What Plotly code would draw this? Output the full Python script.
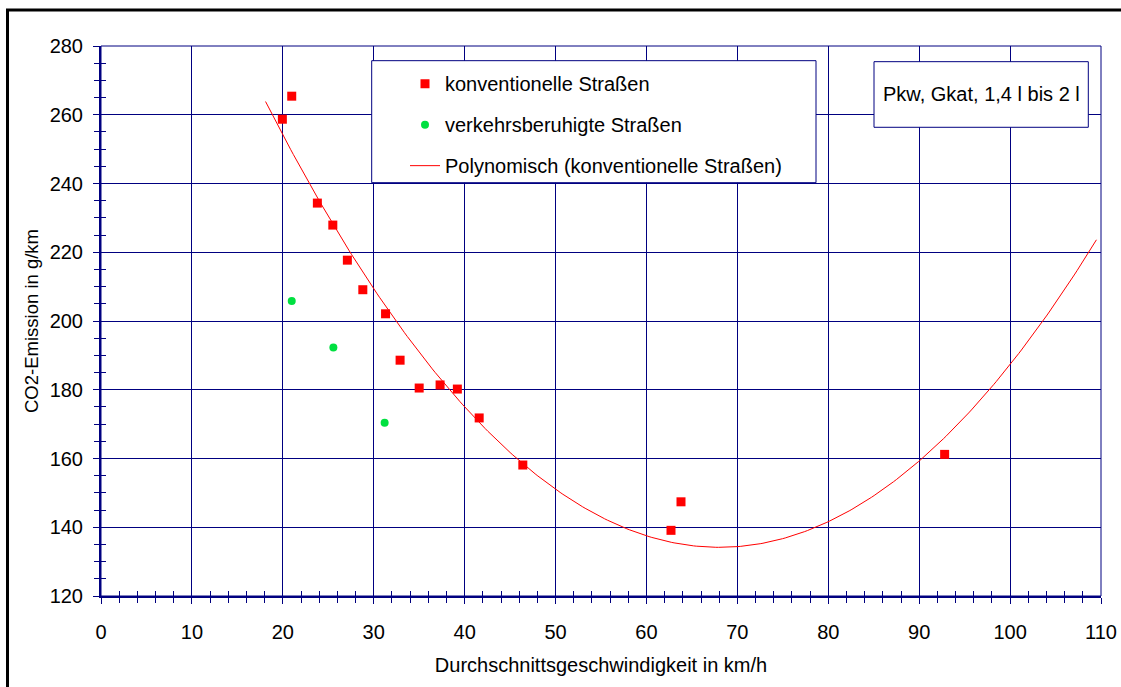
import numpy as np
import plotly.graph_objects as go

# Data
konv_speed = [19.95, 20.98, 23.8, 25.5, 27.1, 28.8, 31.3, 32.9, 35.0, 37.3, 39.2, 41.6, 46.4, 62.7, 63.8, 92.8]
konv_co2 = [258.7, 265.4, 234.3, 227.9, 217.7, 209.1, 202.1, 188.6, 180.5, 181.4, 180.2, 171.8, 158.1, 139.1, 147.4, 161.2]
beruhigt_speed = [20.98, 25.56, 31.2]
beruhigt_co2 = [205.8, 192.3, 170.4]
x_ticks = [0, 10, 20, 30, 40, 50, 60, 70, 80, 90, 100, 110]
y_ticks = [120, 140, 160, 180, 200, 220, 240, 260, 280]
trend_range = [18.1, 109.5]

# polynomial (2nd order) trendline of the conventional roads, like the spreadsheet trendline
coef = np.polyfit(konv_speed, konv_co2, 2)
tx = np.linspace(trend_range[0], trend_range[1], 300)
ty = np.polyval(coef, tx)

NAVY = "#000080"
FONT = "Liberation Sans, Arial, sans-serif"
FS = 20

fig = go.Figure()
fig.add_trace(go.Scatter(x=konv_speed, y=konv_co2, mode="markers", name="konventionelle Straßen",
                         marker=dict(symbol="square", size=9, color="#FF0000"), legendgroup="a"))
fig.add_trace(go.Scatter(x=beruhigt_speed, y=beruhigt_co2, mode="markers", name="verkehrsberuhigte Straßen",
                         marker=dict(symbol="circle", size=8, color="#00E040"), legendgroup="b"))
fig.add_trace(go.Scatter(x=tx, y=ty, mode="lines", name="Polynomisch (konventionelle Straßen)",
                         line=dict(color="#FF0000", width=1), legendgroup="c"))
# helper trace for the overlay axes (crossing minor ticks)
fig.add_trace(go.Scatter(x=[None], y=[None], xaxis="x2", yaxis="y2", showlegend=False, hoverinfo="skip"))

fig.update_layout(
    width=1121, height=687,
    margin=dict(l=101, r=20, t=46, b=91, autoexpand=False),
    paper_bgcolor="white", plot_bgcolor="white",
    font=dict(family=FONT, size=FS, color="black"),
    showlegend=True,
    legend=dict(x=0.304, y=0.967, xanchor="left", yanchor="top",
                bgcolor="rgba(0,0,0,0)", borderwidth=0,
                font=dict(family=FONT, size=FS, color="black"),
                tracegroupgap=12),
    xaxis=dict(range=[0, 110], tickvals=x_ticks, showgrid=True, gridcolor=NAVY, gridwidth=1,
               showline=True, linecolor=NAVY, linewidth=2, zeroline=False, automargin=False,
               ticks="outside", ticklen=6, tickcolor=NAVY, tickwidth=1,
               minor=dict(dtick=2, ticks="outside", ticklen=5, tickcolor=NAVY, showgrid=False),
               title=dict(text="Durchschnittsgeschwindigkeit in km/h", font=dict(size=FS), standoff=16),
               ticklabelstandoff=11, tickfont=dict(size=FS)),
    yaxis=dict(range=[120, 280], tickvals=y_ticks, showgrid=True, gridcolor=NAVY, gridwidth=1,
               showline=True, linecolor=NAVY, linewidth=2, zeroline=False, automargin=True,
               ticks="outside", ticklen=6, tickcolor=NAVY, tickwidth=1,
               minor=dict(dtick=5, ticks="outside", ticklen=5, tickcolor=NAVY, showgrid=False),
               title=dict(text="CO2-Emission in g/km", font=dict(size=18.5), standoff=6),
               ticklabelstandoff=6, tickfont=dict(size=FS)),
    xaxis2=dict(range=[0, 110], overlaying="x", anchor="y2", side="bottom", showgrid=False,
                showline=False, zeroline=False, showticklabels=False, automargin=False,
                tickmode="linear", tick0=0, dtick=2, ticks="inside", ticklen=5, tickcolor=NAVY),
    yaxis2=dict(range=[120, 280], overlaying="y", anchor="x2", side="left", showgrid=False,
                showline=False, zeroline=False, showticklabels=False, automargin=False,
                tickmode="linear", tick0=120, dtick=5, ticks="inside", ticklen=5, tickcolor=NAVY),
)

shapes = [
    # plot border (top/right)
    dict(type="rect", xref="paper", yref="paper", x0=0, x1=1, y0=0, y1=1,
         line=dict(color=NAVY, width=1), layer="below"),
    # legend box
    dict(type="rect", xref="paper", yref="paper", x0=0.2707, x1=0.715, y0=0.7515, y1=0.9733,
         line=dict(color=NAVY, width=1), fillcolor="white", layer="above"),
    # info text box
    dict(type="rect", xref="paper", yref="paper", x0=0.773, x1=0.9873, y0=0.8522, y1=0.9715,
         line=dict(color=NAVY, width=1), fillcolor="white", layer="above"),
    # outer black frame
    dict(type="rect", xref="paper", yref="paper", x0=-0.0935, x1=1.2, y0=-0.4, y1=1.0655,
         line=dict(color="black", width=3), layer="above"),
]
fig.update_layout(shapes=shapes)
fig.add_annotation(x=0.880, y=0.912, xref="paper", yref="paper", text="Pkw, Gkat, 1,4 l bis 2 l",
                   showarrow=False, xanchor="center", yanchor="middle",
                   font=dict(family=FONT, size=FS, color="black"))

fig.write_html("out.html")
